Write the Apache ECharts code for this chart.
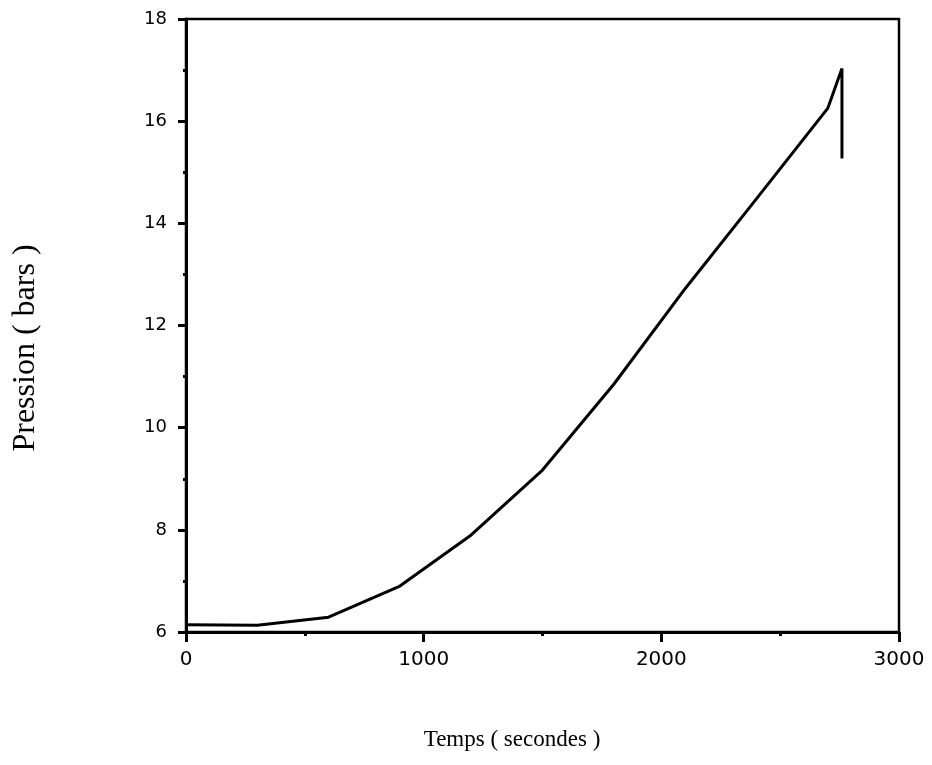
<!DOCTYPE html>
<html>
<head>
<meta charset="utf-8">
<script src="https://cdn.jsdelivr.net/npm/echarts@6/dist/echarts.min.js"></script>
<style>
html,body{margin:0;padding:0;background:#fff;}
#c{width:932px;height:765px;}
</style>
</head>
<body>
<div id="c"></div>
<script>
// Data
var temps = [0, 300, 600, 900, 1200, 1500, 1800, 2100, 2400, 2700, 2760, 2760];
var pression = [6.14, 6.13, 6.29, 6.9, 7.9, 9.17, 10.85, 12.72, 14.48, 16.25, 17.03, 15.27];
var xTitle = 'Temps ( secondes )';
var yTitle = 'Pression ( bars )';

var chart = echarts.init(document.getElementById('c'), null, {renderer: 'canvas'});
var pts = temps.map(function (t, i) { return [t, pression[i]]; });

chart.setOption({
  animation: false,
  backgroundColor: '#fff',
  grid: {left: 186, right: 33, top: 19, bottom: 133, show: true, borderColor: '#000', borderWidth: 2.5, backgroundColor: 'transparent'},
  xAxis: {
    type: 'value', min: 0, max: 3000, interval: 1000,
    axisLine: {lineStyle: {color: '#000', width: 3}},
    axisTick: {length: 10, lineStyle: {color: '#000', width: 3}},
    minorTick: {show: true, splitNumber: 2, length: 4, lineStyle: {color: '#000', width: 3}},
    splitLine: {show: false},
    axisLabel: {color: '#000', fontFamily: 'DejaVu Sans', fontSize: 20, margin: 18,
      formatter: function (v) { return String(v); }}
  },
  yAxis: {
    type: 'value', min: 6, max: 18, interval: 2,
    axisLine: {lineStyle: {color: '#000', width: 3}},
    axisTick: {length: 8, lineStyle: {color: '#000', width: 3}},
    minorTick: {show: true, splitNumber: 2, length: 3, lineStyle: {color: '#000', width: 3}},
    splitLine: {show: false},
    axisLabel: {color: '#000', fontFamily: 'DejaVu Sans', fontSize: 18, margin: 19,
      formatter: function (v) { return String(v); }}
  },
  graphic: [
    {type: 'text', x: 512, y: 740, style: {text: xTitle, fontFamily: 'Liberation Serif', fontSize: 23, fill: '#000', textAlign: 'center', textVerticalAlign: 'middle'}},
    {type: 'text', x: 26, y: 348, rotation: Math.PI / 2, style: {text: yTitle, fontFamily: 'Liberation Serif', fontSize: 32, fill: '#000', textAlign: 'center', textVerticalAlign: 'middle'}}
  ],
  series: [{
    type: 'line', data: pts, symbol: 'none', smooth: false,
    lineStyle: {color: '#000', width: 3}
  }]
});
</script>
</body>
</html>
